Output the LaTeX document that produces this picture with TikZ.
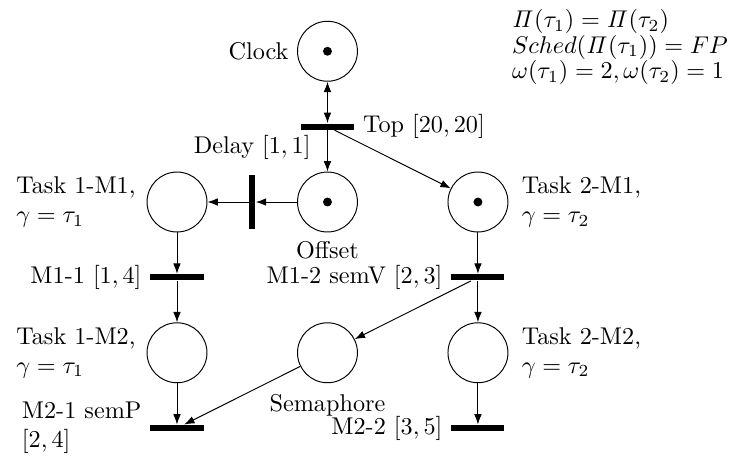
\documentclass[tikz,border=0pt]{standalone}
\usepackage{amsmath}
\usetikzlibrary{arrows.meta,petri}

\begin{document}
\begin{tikzpicture}[x=2.184cm,y=1.094cm,>={Latex[length=1.5mm,width=1.1mm]}]
            \useasboundingbox (-2.569cm,-3.716cm) rectangle (8.012cm,2.932cm);
            \tikzset{every place/.style={draw,thin,minimum size=8.7mm,inner sep=0pt}};
            \tikzset{every transition/.style={draw=none,fill=black,inner sep=0pt,minimum width=7.7mm,minimum height=0.9mm,label distance=1.5mm}};
            \tikzset{every token/.style={fill=black,inner sep=0pt,minimum size=1.3mm}};

            \node[anchor=west,align=left] (sched) at (4.74cm,2.25cm)
                 {$\mathit{\Pi}(\tau_1)=\mathit{\Pi}(\tau_2)$\\[-1.5pt]
                  $Sched(\mathit{\Pi}(\tau_1))=FP$\\[-1.5pt]
                  $\omega(\tau_1)=2,\omega(\tau_2)=1$};

            \node[place,tokens=1,label=left:Clock] (clock) at (1,2) {};
            \node[transition,label=right:{Top $[20,20]$}] (top) at (1,1) {};
            \node[place,tokens=1,label=below:Offset] (offset) at (1,0) {};
            \node[transition,minimum width=0.9mm,minimum height=7.7mm,label={[label distance=1mm]above:Delay $[1,1]$}] (delay) at (0.5,0) {};

            \node[place,label={[align=left,label distance=1pt]left:{Task 1-M1,\\$\gamma=\tau_1$}}] (t1m1) at (0,0) {};
            \node[place,tokens=1,label={[align=left,label distance=2pt]right:{Task 2-M1,\\$\gamma=\tau_2$}}] (t2m1) at (2,0) {};
            \node[transition,label=left:{M1-1 $[1,4]$}] (m11) at (0,-1) {};
            \node[transition,label=left:{M1-2 semV $[2,3]$}] (m12) at (2,-1) {};

            \node[place,label={[align=left,label distance=1pt]left:{Task 1-M2,\\$\gamma=\tau_1$}}] (t1m2) at (0,-2) {};
            \node[place,label={[label distance=1pt]below:Semaphore}] (sem) at (1,-2) {};
            \node[place,label={[align=left,label distance=2pt]right:{Task 2-M2,\\$\gamma=\tau_2$}}] (t2m2) at (2,-2) {};
            \node[transition,label={[align=left]left:{M2-1 semP\\$[2,4]$}}] (m21) at (0,-3) {};
            \node[transition,label=left:{M2-2 $[3,5]$}] (m22) at (2,-3) {};

            \draw[<->] (clock) -- (top);
            \draw[->] (top) -- (offset);
            \draw[->] (top) -- (t2m1);
            \draw[->] (offset) -- (delay);
            \draw[->] (delay) -- (t1m1);
            \draw[->] (t1m1) -- (m11);
            \draw[->] (m11) -- (t1m2);
            \draw[->] (t1m2) -- (m21);
            \draw[->] (t2m1) -- (m12);
            \draw[->] (m12) -- (t2m2);
            \draw[->] (m12) -- (sem);
            \draw[->] (t2m2) -- (m22);
            \draw[->] (sem) -- (m21);
\end{tikzpicture}
\end{document}
